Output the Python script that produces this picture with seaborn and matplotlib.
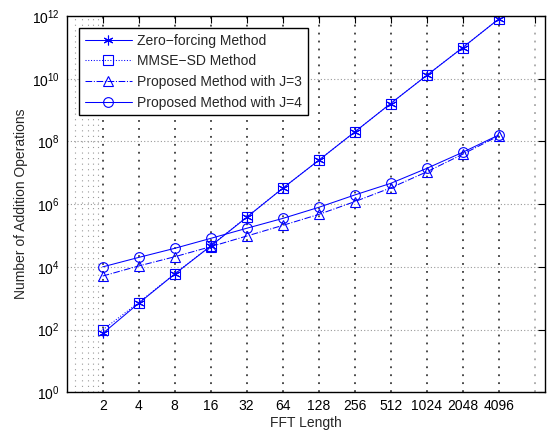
import numpy as np
import pandas as pd
import matplotlib
matplotlib.use("Agg")
import matplotlib.pyplot as plt
import seaborn as sns

# -----------------------------
# Data
# -----------------------------
fft_len = [2, 4, 8, 16, 32, 64, 128, 256, 512, 1024, 2048, 4096]
zero_forcing = [75, 690, 5900, 46000, 3.8e5, 3.2e6, 2.5e7, 2.0e8, 1.62e9, 1.27e10, 9.8e10, 8.0e11]
mmse_sd = [98, 730, 6000, 47000, 3.9e5, 3.2e6, 2.5e7, 2.0e8, 1.62e9, 1.28e10, 9.9e10, 8.0e11]
proposed_j3 = [5.1e3, 1.07e4, 2.1e4, 4.4e4, 9.6e4, 2.1e5, 4.7e5, 1.2e6, 3.3e6, 1.07e7, 3.9e7, 1.5e8]
proposed_j4 = [1.0e4, 2.0e4, 3.9e4, 8.1e4, 1.7e5, 3.5e5, 7.9e5, 1.96e6, 4.6e6, 1.38e7, 4.5e7, 1.6e8]

x_ticks = fft_len + [8192]
x_tick_labels = [str(v) for v in fft_len] + [""]
x_minor = [1 + k / 6 for k in range(1, 6)]
y_ticks = [1e0, 1e2, 1e4, 1e6, 1e8, 1e10, 1e12]
y_tick_labels = ["$10^{%d}$" % int(np.log10(v)) for v in y_ticks]

series = [
    ("Zero\u2212forcing Method", zero_forcing, "-", (6, 2, 0)),
    ("MMSE\u2212SD Method", mmse_sd, ":", "s"),
    ("Proposed Method with J=3", proposed_j3, "-.", "^"),
    ("Proposed Method with J=4", proposed_j4, "-", "o"),
]

# -----------------------------
# Style
# -----------------------------
sns.set_theme(style="white")
plt.rcParams["font.family"] = ["Liberation Sans", "DejaVu Sans"]
plt.rcParams["mathtext.fontset"] = "custom"
plt.rcParams["mathtext.rm"] = "Liberation Sans"
plt.rcParams["mathtext.it"] = "Liberation Sans:italic"
plt.rcParams["mathtext.bf"] = "Liberation Sans:bold"
plt.rcParams["axes.edgecolor"] = "black"
plt.rcParams["axes.linewidth"] = 1.0

fig = plt.figure(figsize=(5.49, 4.34), dpi=100)
ax = fig.add_axes([0.1215, 0.0961, 0.8712, 0.867])

# -----------------------------
# Plot
# -----------------------------
for name, vals, ls, mk in series:
    df = pd.DataFrame({"N": fft_len, "ops": vals})
    sns.lineplot(data=df, x="N", y="ops", ax=ax, color="blue", linestyle=ls,
                 linewidth=0.75, marker=mk, markersize=7, markerfacecolor="none",
                 markeredgecolor="blue", markeredgewidth=0.8, label=name)

ax.set_xscale("log")
ax.set_yscale("log")
ax.set_xlim(1, 1e4)
ax.set_ylim(1, 1e12)

ax.set_xticks(x_ticks)
ax.set_xticklabels(x_tick_labels)
ax.set_xticks(x_minor, minor=True)
ax.xaxis.set_minor_formatter(matplotlib.ticker.NullFormatter())
ax.set_yticks(y_ticks)
ax.set_yticklabels(y_tick_labels)
ax.yaxis.set_minor_locator(matplotlib.ticker.NullLocator())

ax.tick_params(which="major", direction="in", length=5, width=0.8, top=True,
               right=True, labelsize=10, colors="black", pad=5)
ax.tick_params(which="minor", length=0)

# grid lines: dark dotted verticals, lighter dotted horizontals
ax.grid(False)
ax.xaxis.grid(True, which="major", color="0.1", linestyle=(0, (1.2, 4)), linewidth=1.1)
ax.xaxis.grid(True, which="minor", color="0.6", linestyle=(0, (1, 4)), linewidth=0.8)
ax.yaxis.grid(True, which="major", color="0.6", linestyle=(0, (1, 2)), linewidth=0.8)
ax.get_xgridlines()[-1].set_color("0.6")
ax.set_axisbelow(True)

ax.set_xlabel("FFT Length", fontsize=10, labelpad=2)
ax.set_ylabel("Number of Addition Operations", fontsize=10, labelpad=3)

leg = ax.legend(loc="upper left", bbox_to_anchor=(0.0257, 0.968), borderaxespad=0,
                fontsize=10, frameon=True, fancybox=False, framealpha=1,
                edgecolor="black", handlelength=3.4, handletextpad=0.4,
                labelspacing=0.48, borderpad=0.4)
leg.get_frame().set_linewidth(1.0)

plt.savefig("out.png", dpi=100)
